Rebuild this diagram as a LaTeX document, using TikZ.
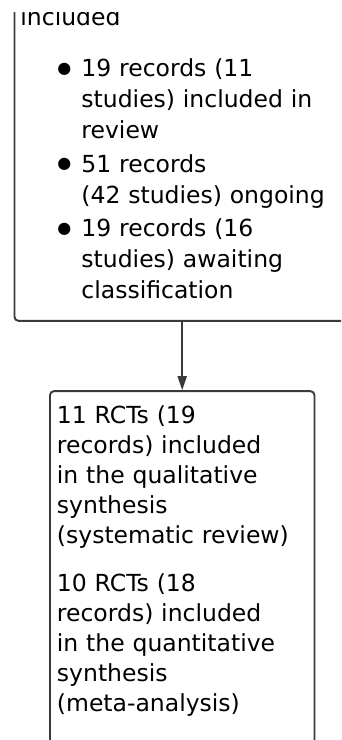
\documentclass[tikz,border=0pt]{standalone}
\usepackage{fontspec}
\setmainfont{DejaVu Sans}
\usetikzlibrary{arrows.meta,positioning}

\definecolor{boxgray}{HTML}{3A3A3A}

% one bulleted entry with a hanging indent
\newcommand{\bentry}[1]{\par\vspace{2.5pt}\leftskip=37pt\hangindent=24pt\hangafter=1
  \noindent\makebox[24pt][l]{\raisebox{3.5pt}{\fontsize{16}{16}\selectfont ●}}#1}

\tikzset{
  flowbox/.style={draw=boxgray, line width=1.9pt, rounded corners=4pt,
    align=left, anchor=base west},
  flowarrow/.style={draw=boxgray, line width=1.9pt, -{Triangle[width=9pt,length=14pt]}}
}

\begin{document}
\begin{tikzpicture}[x=1pt, y=-1pt]
\useasboundingbox (0,0) rectangle (341,740);
\clip (0,12.5) rectangle (341,740);

% studies included
\node[flowbox, text width=340pt, inner xsep=6pt, inner ysep=22pt,
  font=\fontsize{23.5}{31}\selectfont] (incl) at (13.5,25) {included\par\vspace{18pt}
  \bentry{19 records (11\newline studies) included in\newline review}
  \bentry{51 records\newline (42 studies) ongoing}
  \bentry{19 records (16\newline studies) awaiting\newline classification}\par};

% synthesis
\node[flowbox, text width=250.5pt, inner xsep=7pt, inner ysep=14.5pt, text depth=330pt,
  font=\fontsize{23.5}{30}\selectfont] (synth) at (49,423.5) {11 RCTs (19\\records) included\\in the qualitative\\synthesis\\(systematic review)\par\vspace{18pt}
  10 RCTs (18\\records) included\\in the quantitative\\synthesis\\(meta-analysis)};

\draw[flowarrow] (synth.north |- incl.south) -- (synth.north);
\end{tikzpicture}
\end{document}
